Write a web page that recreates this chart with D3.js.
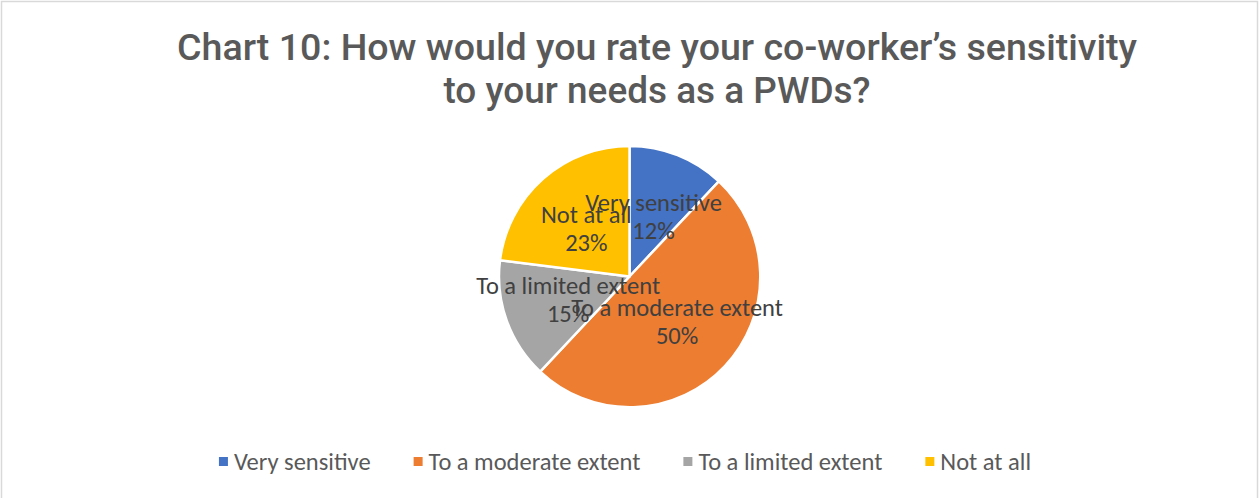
<!DOCTYPE html>
<html>
<head>
<meta charset="utf-8">
<script src="https://cdn.jsdelivr.net/npm/d3@7"></script>
<style>
  html, body { margin: 0; padding: 0; background: #fff; }
  svg { display: block; }
</style>
</head>
<body>
<div id="chart"></div>
<script>
// Survey responses (share of respondents, %)
const categories = ["Very sensitive", "To a moderate extent", "To a limited extent", "Not at all"];
const values = [12, 50, 15, 23];
const colors = ["#4472C4", "#ED7D31", "#A5A5A5", "#FFC000"];
const titleLines = ["Chart 10: How would you rate your co-worker’s sensitivity", "to your needs as a PWDs?"];

const W = 1260, H = 498;
const svg = d3.select("#chart").append("svg").attr("width", W).attr("height", H);

// chart area frame
svg.append("rect")
  .attr("x", 1.5).attr("y", 1.5)
  .attr("width", 1256).attr("height", H + 10)
  .attr("fill", "#fff").attr("stroke", "#d9d9d9").attr("stroke-width", 1.5);

// title: two centred lines, narrowed to a condensed look
const titleWidths = [960, 427];
titleLines.forEach((t, i) => {
  svg.append("text")
    .attr("x", 657)
    .attr("y", 60 + i * 43)
    .attr("text-anchor", "middle")
    .attr("font-family", "Roboto, 'DejaVu Sans', sans-serif")
    .attr("font-weight", 500)
    .attr("font-size", 37)
    .attr("fill", "#595959")
    .attr("textLength", titleWidths[i])
    .attr("lengthAdjust", "spacingAndGlyphs")
    .text(t);
});

// pie
const cx = 629.5, cy = 276.5, r = 130.5;
const pie = d3.pie().sort(null).value(d => d);
const arcs = pie(values);
const arc = d3.arc().innerRadius(0).outerRadius(r);
const g = svg.append("g").attr("transform", `translate(${cx},${cy})`);

g.selectAll("path.slice")
  .data(arcs)
  .join("path")
  .attr("class", "slice")
  .attr("d", arc)
  .attr("fill", (d, i) => colors[i])
  .attr("stroke", "#fff")
  .attr("stroke-width", 2.5)
  .attr("stroke-linejoin", "round");

// data labels: category name + percent at slice centroid
const labelFont = "Carlito, Lato, 'Liberation Sans', sans-serif";
g.selectAll("text.lbl")
  .data(arcs)
  .join("text")
  .attr("class", "lbl")
  .attr("text-anchor", "middle")
  .attr("font-family", labelFont)
  .attr("font-size", 24.5)
  .attr("fill", "#404040")
  .each(function (d, i) {
    const [x, y] = arc.centroid(d);
    const t = d3.select(this);
    t.append("tspan").attr("x", x).attr("y", y - 5).text(categories[i]);
    t.append("tspan").attr("x", x).attr("y", y + 23).text(d3.format(".0%")(values[i] / 100));
  });

// legend
const legend = svg.append("g");
const items = legend.selectAll("g.item")
  .data(categories)
  .join("g")
  .attr("class", "item");
items.append("rect")
  .attr("width", 9).attr("height", 9)
  .attr("y", -13)
  .attr("fill", (d, i) => colors[i]);
items.append("text")
  .attr("x", 15)
  .attr("font-family", labelFont)
  .attr("font-size", 24.5)
  .attr("fill", "#595959")
  .text(d => d);

let xPos = 0;
const gap = 43;
items.each(function () {
  const w = 15 + d3.select(this).select("text").node().getComputedTextLength();
  d3.select(this).attr("transform", `translate(${xPos},0)`);
  xPos += w + gap;
});
const totalW = xPos - gap;
legend.attr("transform", `translate(${(W - totalW) / 2 - 5},470)`);
</script>
</body>
</html>
